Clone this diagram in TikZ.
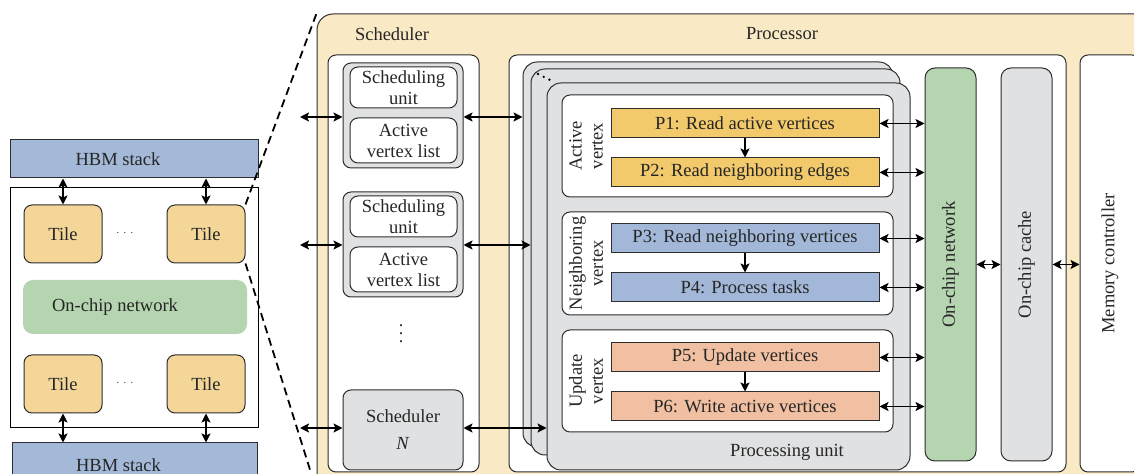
\documentclass[tikz,border=0pt]{standalone}
\usepackage{fontspec}
\setmainfont{Liberation Serif}
\usetikzlibrary{arrows.meta, positioning}

\definecolor{hbmblue}{RGB}{164,184,216}
\definecolor{tilegold}{RGB}{243,214,152}
\definecolor{netgreen}{RGB}{181,212,176}
\definecolor{chiptan}{RGB}{249,234,197}
\definecolor{unitgray}{RGB}{224,225,227}
\definecolor{pgold}{RGB}{242,201,107}
\definecolor{pblue}{RGB}{163,184,217}
\definecolor{psalmon}{RGB}{241,191,161}
\definecolor{edge}{RGB}{45,45,45}

\begin{document}
\begin{tikzpicture}[x=0.5pt, y=-0.5pt, >={Stealth[length=4.5pt, width=4.5pt, inset=1pt]},
  font=\fontsize{9.25}{10.5}\selectfont, text=black!85,
  sz/.style 2 args={minimum width=#1*0.5pt, minimum height=#2*0.5pt},
  blk/.style={draw=edge, line width=.5pt, inner sep=0pt, align=center},
  tile/.style={blk, fill=tilegold, rounded corners=4pt, sz={78}{58}},
  grp/.style={blk, fill=unitgray, rounded corners=4pt},
  wbox/.style={blk, fill=white, rounded corners=4pt},
  pbox/.style={blk, sz={268}{29}},
  arr/.style={<->, line width=.9pt},
  zoomline/.style={line width=.9pt, dash pattern=on 4pt off 2.5pt}]

  \useasboundingbox (0,0) rectangle (1134,474);
  \clip (0,0) rectangle (1134,474);

  % chip overview
  \node[blk, fill=hbmblue, sz={248}{38}] (hbmtop) at (134,159) {HBM stack\hspace{16pt}};
  \node[blk, draw=black, fill=white, sz={248}{240}] (chip) at (134,308) {};
  \node[tile] (t1) at (63,234) {Tile};
  \node[tile] (t2) at (206,234) {Tile};
  \node[tile] (t3) at (63,384) {Tile};
  \node[tile] (t4) at (206,384) {Tile};
  \node[font=\tiny] (d1) at (125,233) {$\cdots$};
  \node[font=\tiny] (d2) at (125,383) {$\cdots$};
  \node[blk, draw=none, fill=netgreen, rounded corners=5pt, sz={224}{54}] (noc) at (135,307) {On-chip network\hspace{20pt}};
  \node[blk, fill=hbmblue, sz={245}{44}] (hbmbot) at (134.5,465) {HBM stack\hspace{16pt}};

  \draw[arr] (t1 |- hbmtop.south) -- (t1.north);
  \draw[arr] (t2 |- hbmtop.south) -- (t2.north);
  \draw[arr] (t3.south) -- (t3 |- hbmbot.north);
  \draw[arr] (t4.south) -- (t4 |- hbmbot.north);

  % zoomed tile
  \node[blk, fill=chiptan, rounded corners=8pt, sz={833}{476}] (zoom) at (733.5,252) {};
  \draw[zoomline] (t2.north east) -- (zoom.north west);
  \draw[zoomline] (t2.south east) -- (zoom.south west);
  \node (schtitle) at (392,34) {Scheduler};
  \node (proctitle) at (782,34) {Processor};

  % scheduler column
  \node[wbox, sz={151}{417}] (schcol) at (403.5,263.5) {};
  \node[grp, sz={120}{105}] (grp1) at (403,115.5) {};
  \node[wbox, sz={107}{41}] (su1) at (403.5,87.5) {Scheduling\\unit};
  \node[wbox, sz={107}{45}] (avl1) at (403.5,140.5) {Active\\vertex list};
  \node[grp, sz={120}{105}] (grp2) at (403,244.5) {};
  \node[wbox, sz={107}{41}] (su2) at (403.5,216.5) {Scheduling\\unit};
  \node[wbox, sz={107}{45}] (avl2) at (403.5,269.5) {Active\\vertex list};
  \node[font=\small] (vd) at (401,328) {$\vdots$};
  \node[grp, sz={120}{80}] (schN) at (403,430) {Scheduler\\[3pt]\textit{N}};

  \coordinate (in1) at (300,117);
  \coordinate (in2) at (300,245);
  \coordinate (in3) at (300,428);
  \draw[arr] (in1) -- (in1 -| grp1.west);
  \draw[arr] (in2) -- (in2 -| grp2.west);
  \draw[arr] (in3) -- (in3 -| schN.west);

  % processor
  \node[wbox, sz={557}{417}] (proc) at (787.5,263.5) {};
  \node[grp, rounded corners=7pt, sz={370}{385}] (puback) at (708,254.5) {};
  \node[grp, rounded corners=7pt, sz={369}{386}] (pumid) at (715.5,262) {};
  \node[grp, rounded corners=7pt, sz={363}{387}] (pufront) at (728.5,276.5) {};
  \draw[line width=1.3pt, line cap=round, dash pattern=on 0pt off 3.2pt] (538,74) -- (552,81);
  \node (pulabel) at (787,452) {Processing unit};

  \draw[arr] (grp1.east |- in1) -- (in1 -| puback.west);
  \draw[arr] (grp2.east |- in2) -- (in2 -| pumid.west);
  \draw[arr] (schN.east |- in3) -- (in3 -| pufront.west);

  \node[wbox, sz={331}{102}] (gact) at (727.5,146) {};
  \node[wbox, sz={331}{103}] (gnbr) at (727.5,263.5) {};
  \node[wbox, sz={331}{102}] (gupd) at (727.5,381) {};
  \node[rotate=90, align=center] (lact) at (586,146) {Active\\vertex};
  \node[rotate=90, align=center] (lnbr) at (586,263.5) {Neighboring\\vertex};
  \node[rotate=90, align=center] (lupd) at (586,381) {Update\\vertex};

  \node[pbox, fill=pgold] (p1) at (745,123.5) {P1: Read active vertices};
  \node[pbox, fill=pgold, below=9.5pt of p1] (p2) {P2: Read neighboring edges};
  \node[pbox, fill=pblue] (p3) at (745,238.5) {P3: Read neighboring vertices};
  \node[pbox, fill=pblue, below=9.5pt of p3] (p4) {P4: Process tasks};
  \node[pbox, fill=psalmon] (p5) at (745,357.5) {P5: Update vertices};
  \node[pbox, fill=psalmon, below=9.5pt of p5] (p6) {P6: Write active vertices};

  \draw[->, line width=.9pt] (p1) -- (p2);
  \draw[->, line width=.9pt] (p3) -- (p4);
  \draw[->, line width=.9pt] (p5) -- (p6);

  \node[blk, fill=netgreen, rounded corners=5pt, sz={51}{393}] (onet) at (950.5,264.5) {};
  \node[rotate=90] (onetlabel) at (onet) {On-chip network};
  \node[blk, fill=unitgray, rounded corners=5pt, sz={51}{393}] (ocache) at (1026.5,264.5) {};
  \node[rotate=90] (ocachelabel) at (ocache) {On-chip cache};
  \node[wbox, sz={60}{417}] (memctl) at (1110,263.5) {};
  \node[rotate=90] (memlabel) at (memctl) {Memory controller};

  \foreach \p in {p1,p2,p3,p4,p5,p6}
    \draw[arr] (\p.east) -- (\p.east -| onet.west);
  \draw[arr] (onet.east) -- (ocache.west);
  \draw[arr] (ocache.east) -- (ocache.east -| memctl.west);
\end{tikzpicture}
\end{document}
